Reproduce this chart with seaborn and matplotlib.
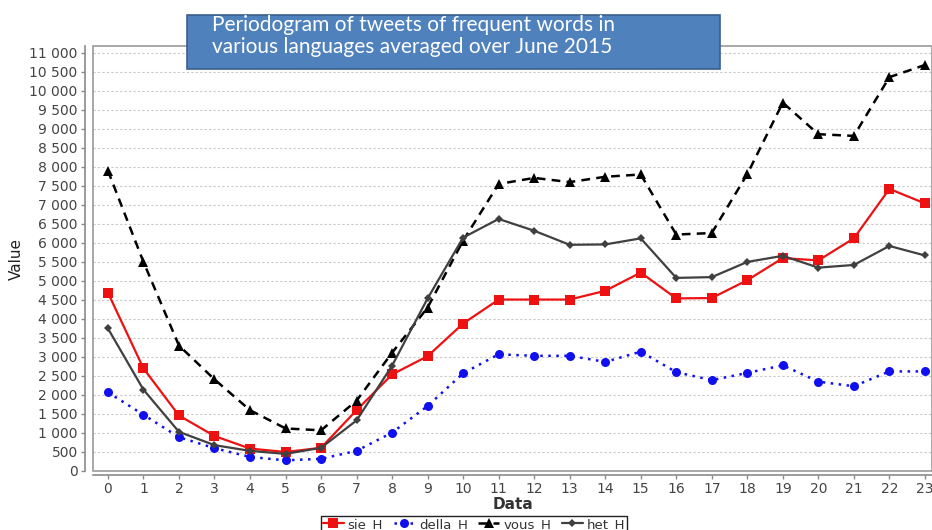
import matplotlib
matplotlib.use("Agg")
import matplotlib.pyplot as plt
from matplotlib.patches import Rectangle
from matplotlib.ticker import FuncFormatter, MultipleLocator
import seaborn as sns
import pandas as pd

hours = list(range(24))
sie_H = [4690, 2700, 1460, 920, 590, 500, 610, 1600, 2540, 3020, 3880, 4510,
         4510, 4510, 4740, 5220, 4540, 4550, 5020, 5600, 5540, 6120, 7420, 7040]
della_H = [2070, 1480, 890, 600, 370, 280, 320, 530, 1010, 1710, 2570, 3070,
           3030, 3030, 2870, 3140, 2600, 2390, 2580, 2780, 2350, 2230, 2620, 2620]
vous_H = [7900, 5500, 3300, 2410, 1600, 1120, 1070, 1850, 3110, 4300, 6060, 7550,
          7710, 7600, 7740, 7800, 6220, 6260, 7810, 9690, 8860, 8815, 10360, 10680]
het_H = [3750, 2140, 1030, 680, 530, 450, 610, 1330, 2770, 4540, 6140, 6630,
         6320, 5950, 5960, 6120, 5080, 5100, 5500, 5660, 5350, 5420, 5920, 5670]

series_names = ["sie_H", "della_H", "vous_H", "het_H"]
series_values = [sie_H, della_H, vous_H, het_H]

sns.set_theme(style="white")
plt.rcParams['font.family'] = ['DejaVu Sans']

fig = plt.figure(figsize=(9.32, 5.30), dpi=100)
ax = fig.add_axes([93 / 932, 1 - 471 / 530, 1 - 93 / 932, (471 - 46) / 530])

styles = {
    "sie_H": dict(color="#ee1111", linestyle="-", marker="s", markersize=6.5, linewidth=1.6),
    "della_H": dict(color="#1010ee", linestyle=(0, (1, 2.2)), marker="o", markersize=6.5, linewidth=1.8),
    "vous_H": dict(color="#000000", linestyle=(0, (3.5, 2.5)), marker="^", markersize=6.5, linewidth=1.8),
    "het_H": dict(color="#404040", linestyle="-", marker="D", markersize=4, linewidth=1.6),
}

for name, vals in zip(series_names, series_values):
    df = pd.DataFrame({"Data": hours, "Value": vals})
    st = styles[name]
    sns.lineplot(data=df, x="Data", y="Value", ax=ax, label=name,
                 color=st["color"], linestyle=st["linestyle"], marker=st["marker"],
                 markersize=st["markersize"], linewidth=st["linewidth"],
                 markeredgewidth=0, legend=False)

ax.set_xlim(-0.42, 23.2)
ax.set_ylim(0, 11180)
ax.yaxis.set_major_locator(MultipleLocator(500))
ax.xaxis.set_major_locator(MultipleLocator(1))
ax.yaxis.set_major_formatter(FuncFormatter(lambda v, p: f"{int(v):,}".replace(",", " ")))

ax.grid(axis="y", color="#c8c8c8", linestyle=(0, (2, 2)), linewidth=0.8)
ax.grid(axis="x", visible=False)
ax.set_axisbelow(True)

for s in ["top", "right"]:
    ax.spines[s].set_visible(False)
ax.spines["left"].set_position(("outward", 6))
ax.spines["bottom"].set_position(("outward", 3))
for s in ["left", "bottom"]:
    ax.spines[s].set_color("#8a8a8a")
    ax.spines[s].set_linewidth(1.2)
frame = Rectangle((0, 0), 1, 1, transform=ax.transAxes, fill=False,
                  edgecolor="#9a9a9a", linewidth=1.2, clip_on=False, zorder=5)
ax.add_patch(frame)

ax.tick_params(axis="both", which="major", direction="out", length=3, width=1,
               color="#8a8a8a", labelsize=10, labelcolor="#444444", pad=2,
               left=True, bottom=True)

ax.set_xlabel("Data", fontsize=11, fontweight="bold", color="#333333", labelpad=0.5)
ax.set_ylabel("Value", fontsize=11, color="#222222", labelpad=4)

# title box
fig.patches.append(Rectangle((187 / 932, 1 - 69 / 530), (720 - 187) / 932, (69 - 15) / 530,
                             transform=fig.transFigure, facecolor="#4f81bd",
                             edgecolor="#3a5f8c", linewidth=1.2, zorder=10))
fig.text(212 / 932, 1 - 36 / 530,
         "Periodogram of tweets of frequent words in\nvarious languages averaged over June 2015",
         color="white", fontsize=15, family=["Lato", "DejaVu Sans"], va="center", ha="left",
         linespacing=1.15, zorder=11)

handles, labels = ax.get_legend_handles_labels()
leg = fig.legend(handles, labels, loc="upper center", bbox_to_anchor=(474 / 932, 1 - 509 / 530),
                 ncol=4, frameon=True, fancybox=False, edgecolor="#222222", framealpha=1,
                 fontsize=9.5, handlelength=1.6, handletextpad=0.3, columnspacing=0.8,
                 borderpad=0.15, labelcolor="#333333")
leg.get_frame().set_linewidth(1.0)

fig.savefig("out.png", dpi=100)
